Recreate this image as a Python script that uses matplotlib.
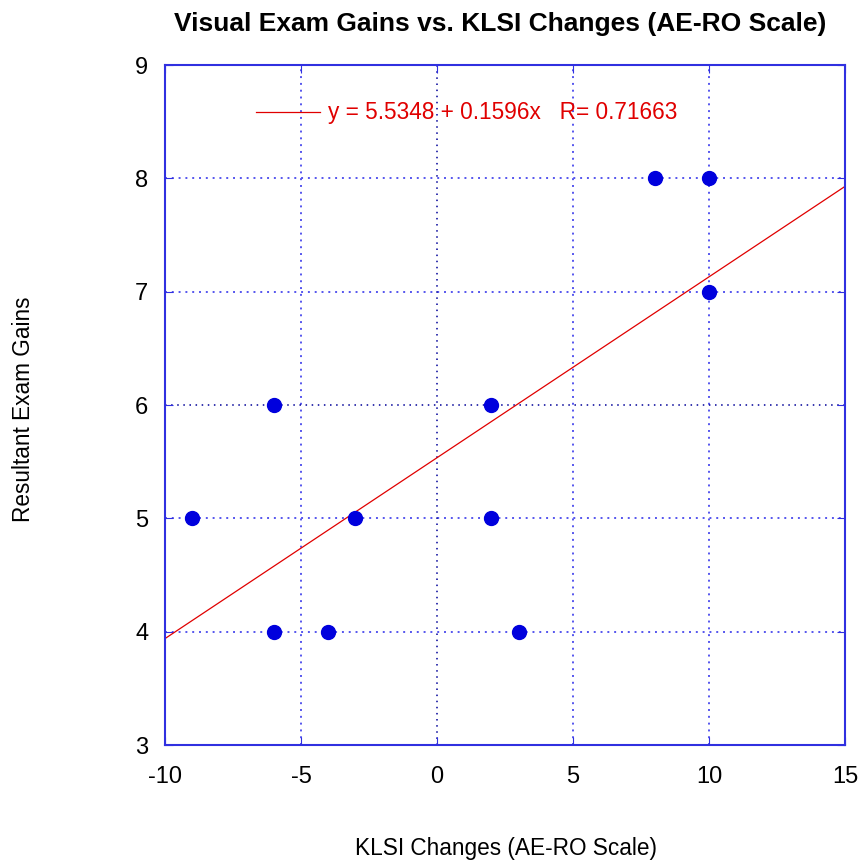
import numpy as np
import matplotlib.pyplot as plt

# KLSI change vs exam gain
klsi = [-9, -6, -6, -4, -3, 2, 2, 3, 8, 10, 10]
gains = [5, 6, 4, 4, 5, 6, 5, 4, 8, 8, 7]
intercept = 5.5348
slope = 0.1596
r_value = 0.71663

plt.rcParams['font.family'] = 'Liberation Sans'
plt.rcParams['axes.unicode_minus'] = False

fig = plt.figure(figsize=(8.61, 8.61), dpi=100)
ax = fig.add_axes([0.1916, 0.1347, 0.7898, 0.7898])

ax.set_xlim(-10, 15)
ax.set_ylim(3, 9)
ax.set_xticks([-10, -5, 0, 5, 10, 15])
ax.set_yticks([3, 4, 5, 6, 7, 8, 9])

# grid: blue dotted, the 0 / 6 lines darker
for x in [-5, 5, 10]:
    ax.axvline(x, color='#5555ee', ls=(0, (1, 2.5)), lw=1.4, zorder=1)
for y in [4, 5, 7, 8]:
    ax.axhline(y, color='#5555ee', ls=(0, (1, 2.5)), lw=1.4, zorder=1)
ax.axvline(0, color='#000099', ls=(0, (1, 3)), lw=1.1, zorder=1)
ax.axhline(6, color='#000099', ls=(0, (1, 3)), lw=1.1, zorder=1)

xs = np.array([-10, 15])
ax.plot(xs, intercept + slope * xs, color='#e00000', lw=0.9, zorder=2)
ax.plot(klsi, gains, 'o', color='#0000dd', ms=10, zorder=3)

# legend-like label
ax.plot([-6.65, -4.3], [8.585, 8.585], color='#e00000', lw=0.9)
ax.text(-4.0, 8.585, f"y = {intercept} + {slope}x   R= {r_value}",
        color='#e00000', fontsize=16.3, va='center', ha='left')

for s in ax.spines.values():
    s.set_color('#3030e0')
    s.set_linewidth(1.5)
ax.tick_params(direction='in', length=6, color='#3030e0', labelsize=17,
               top=True, right=True)
ax.tick_params(axis='x', pad=15)
ax.tick_params(axis='y', pad=12)

fig.text(0.581, 0.9725, "Visual Exam Gains vs. KLSI Changes (AE-RO Scale)",
         fontsize=19, fontweight='bold', ha='center', va='center')
fig.text(0.588, 0.015, "KLSI Changes (AE-RO Scale)", fontsize=16.3,
         ha='center', va='center')
fig.text(0.0275, 0.525, "Resultant Exam Gains", fontsize=16.3,
         ha='center', va='center', rotation=90)

fig.savefig("out.png", dpi=100)
